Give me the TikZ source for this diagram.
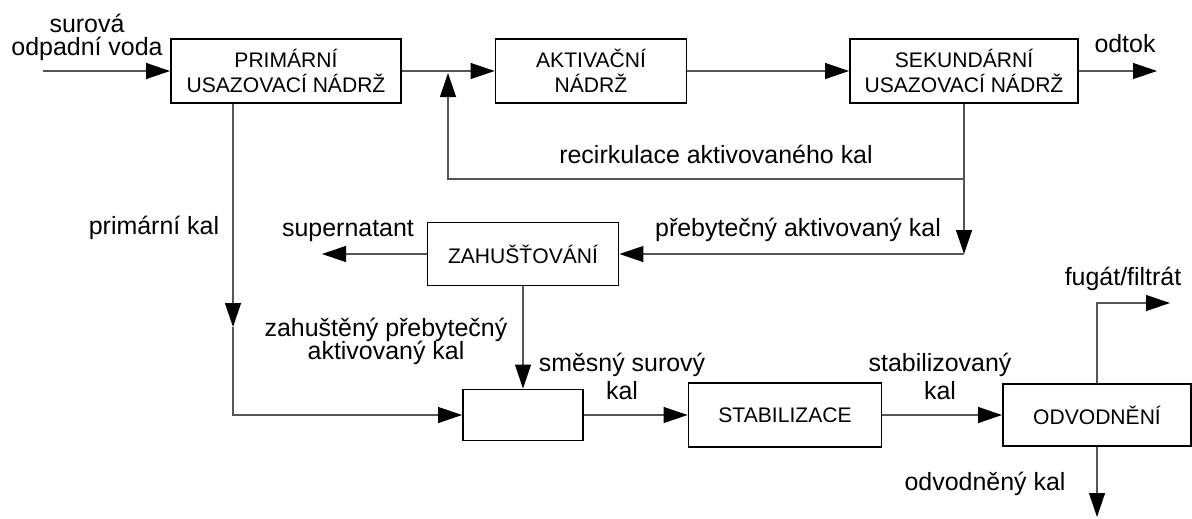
\documentclass[tikz,border=0pt]{standalone}
\usepackage{fontspec}
\setmainfont{Liberation Sans}
\usepackage{tikz}
\usetikzlibrary{arrows.meta, positioning}
\definecolor{linegray}{RGB}{85, 85, 85}
\newcommand{\boxfont}{\fontsize{12pt}{14.2pt}\selectfont}
\newcommand{\notefont}{\fontsize{14.2pt}{13pt}\selectfont\lineskiplimit=-\maxdimen}

\begin{document}
\begin{tikzpicture}[
    x=0.02cm, y=-0.02cm, % one unit = one pixel of the sketch
    box/.style={rectangle, draw=black, line width=1.1pt, fill=white,
                align=center, inner sep=0pt, minimum height=1.28cm, font=\boxfont},
    arrow/.style={-{Triangle[length=0.48cm, width=0.32cm, color=black]},
                  draw=linegray, line width=0.7pt},
    note/.style={font=\notefont, inner sep=0pt, text=black},
    note2/.style={note, align=center}
]
\useasboundingbox (0,0) rectangle (1192,518);

% process units
\node[box, minimum width=4.6cm]  (prim)  at (286,71)  {PRIMÁRNÍ\\USAZOVACÍ NÁDRŽ};
\node[box, minimum width=3.82cm] (aktiv) at (591,71)  {AKTIVAČNÍ\\NÁDRŽ};
\node[box, minimum width=4.56cm] (sek)   at (964,71)  {SEKUNDÁRNÍ\\USAZOVACÍ NÁDRŽ};
\node[box, minimum width=3.82cm, minimum height=1.26cm] (zahus) at (523,254) {ZAHUŠŤOVÁNÍ};
\node[box, minimum width=2.4cm, minimum height=1.02cm]  (mix)   at (523,415) {};
\node[box, minimum width=3.86cm] (stab)  at (785,415) {STABILIZACE};
\node[box, minimum width=3.76cm, minimum height=1.24cm] (odvod) at (1097,415) {ODVODNĚNÍ};

% free ends and bends
\coordinate (inStart)   at (43,71);
\coordinate (outEnd)    at (1157,71);
\coordinate (recSplit)  at (964,179);
\coordinate (recCorner) at (448,179);
\coordinate (recTip)    at (448,73);
\coordinate (excessTip) at (964,254);
\coordinate (superEnd)  at (322,254);
\coordinate (pkTip)     at (233,327);
\coordinate (pkCorner)  at (233,415);
\coordinate (fgEnd)     at (1170,303);
\coordinate (dkEnd)     at (1097,517);

% water line
\draw[arrow] (inStart) -- (prim.west);
\draw[arrow] (prim.east) -- (aktiv.west);
\draw[arrow] (aktiv.east) -- (sek.west);
\draw[arrow] (sek.east) -- (outEnd);
\draw[arrow] (sek.south) -- (recSplit) -- (recCorner) -- (recTip);

% sludge line
\draw[arrow] (recSplit) -- (excessTip);
\draw[arrow] (excessTip) -- (zahus.east);
\draw[arrow] (zahus.west) -- (superEnd);
\draw[arrow] (zahus.south) -- (mix.north);
\draw[arrow] (prim.south -| pkTip) -- (pkTip);
\draw[arrow] (pkTip) -- (pkCorner) -- (mix.west);
\draw[arrow] (mix.east) -- (stab.west);
\draw[arrow] (stab.east) -- (odvod.west);
\draw[arrow] (odvod.north) -- (odvod.north |- fgEnd) -- (fgEnd);
\draw[arrow] (odvod.south) -- (dkEnd);

% stream labels
\node[note2] (inLbl) at (87,37) {surová\\odpadní voda};
\node[note, anchor=base] (outLbl)    at (1125,52)  {odtok};
\node[note, anchor=base] (recLbl)    at (716,163)  {recirkulace aktivovaného kal};
\node[note, anchor=base] (excessLbl) at (798,236)  {přebytečný aktivovaný kal};
\node[note, anchor=base] (superLbl)  at (348,236)  {supernatant};
\node[note, anchor=base] (pkLbl)     at (154,234)  {primární kal};
\node[note2] (thickLbl) at (386,341) {zahuštěný přebytečný\\aktivovaný kal};
\node[note2] (mixLbl)   at (622,376) {směsný surový\\[3pt]kal};
\node[note2] (stabLbl)  at (940,376) {stabilizovaný\\[3pt]kal};
\node[note, anchor=base] (fgLbl)     at (1123,285) {fugát/filtrát};
\node[note, anchor=base] (dkLbl)     at (985,490)  {odvodněný kal};
\end{tikzpicture}
\end{document}
